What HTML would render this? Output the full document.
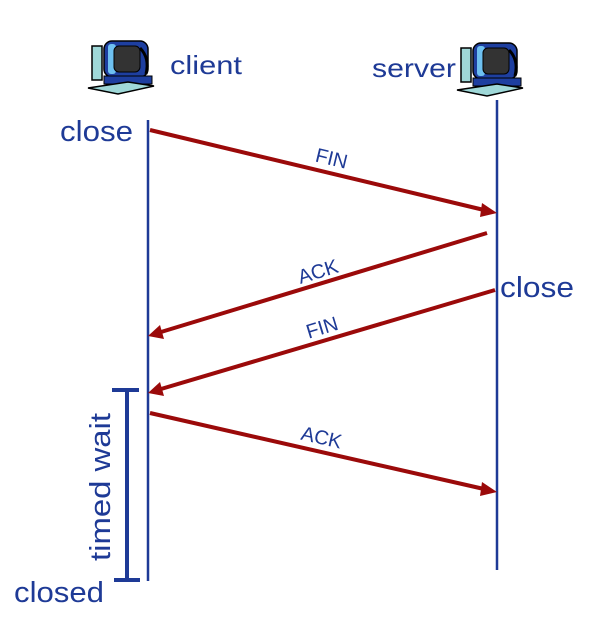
<!DOCTYPE html>
<html><head><style>body{margin:0;background:#fff}svg{display:block}</style></head>
<body>
<svg width="608" height="631" viewBox="0 0 608 631" xmlns="http://www.w3.org/2000/svg" font-family="Liberation Sans, sans-serif">
<defs>
<g id="pc">
  <rect x="4" y="8" width="10" height="34" fill="#9fd8d8" stroke="#000" stroke-width="1.5"/>
  <rect x="16" y="3" width="44" height="36" rx="8" fill="#1e3fa0" stroke="#000" stroke-width="1.5"/>
  <rect x="20" y="6" width="8" height="30" rx="3" fill="#6ec0f0"/>
  <rect x="26" y="8" width="26" height="26" rx="5" fill="#333" stroke="#000"/>
  <path d="M52 10 Q62 20 58 36" stroke="#000" stroke-width="3" fill="none"/>
  <rect x="16" y="38" width="48" height="8" fill="#1e3fa0" stroke="#000"/>
  <path d="M0 50 L40 44 L66 48 L30 56 Z" fill="#9fd8d8" stroke="#000" stroke-width="1.5"/>
</g>
</defs>
<use href="#pc" x="88" y="38"/>
<use href="#pc" x="457" y="40"/>
<g fill="#1e3a96">
<text x="170" y="74" font-size="26" textLength="72" lengthAdjust="spacingAndGlyphs">client</text>
<text x="372" y="77" font-size="26" textLength="84" lengthAdjust="spacingAndGlyphs">server</text>
<text x="60" y="141" font-size="29" textLength="73" lengthAdjust="spacingAndGlyphs">close</text>
<text x="500" y="297" font-size="29" textLength="74" lengthAdjust="spacingAndGlyphs">close</text>
<text x="14" y="602" font-size="29" textLength="90" lengthAdjust="spacingAndGlyphs">closed</text>
<text transform="translate(110,487) rotate(-90)" text-anchor="middle" font-size="29" textLength="148" lengthAdjust="spacingAndGlyphs">timed wait</text>
</g>
<g stroke="#1e3a96" fill="none">
<line x1="148" y1="120" x2="148" y2="581" stroke-width="2.5"/>
<line x1="497" y1="100" x2="497" y2="570" stroke-width="2.5"/>
<line x1="127" y1="390" x2="127" y2="580" stroke-width="4"/>
<line x1="112" y1="390" x2="139" y2="390" stroke-width="4"/>
<line x1="114" y1="580" x2="140" y2="580" stroke-width="4"/>
</g>
<g stroke="#9b0a0a" stroke-width="4" fill="#9b0a0a">
<line x1="150" y1="130" x2="484" y2="210"/>
<polygon points="497,213 482,203 480,217" stroke="none"/>
<line x1="487" y1="233" x2="161" y2="332"/>
<polygon points="148,336 160,325 164,339" stroke="none"/>
<line x1="495" y1="290" x2="161" y2="389"/>
<polygon points="148,393 160,382 164,396" stroke="none"/>
<line x1="150" y1="413" x2="484" y2="489"/>
<polygon points="497,492 482,482 480,496" stroke="none"/>
</g>
<g fill="#1e3a96" font-size="20" text-anchor="middle">
<text transform="translate(330,165) rotate(13.5)">FIN</text>
<text transform="translate(320,278) rotate(-17)">ACK</text>
<text transform="translate(324,334) rotate(-17)">FIN</text>
<text transform="translate(320,444) rotate(13)">ACK</text>
</g>
</svg>
</body></html>
